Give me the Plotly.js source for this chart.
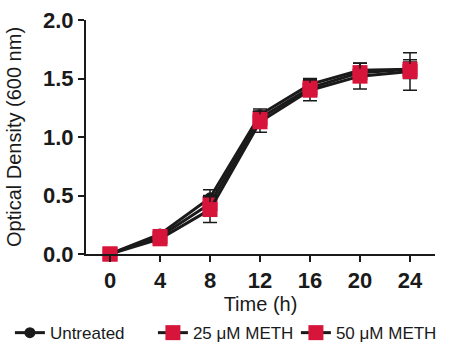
<!DOCTYPE html>
<html><head><meta charset="utf-8">
<script src="https://cdn.plot.ly/plotly-3.0.1.min.js"></script>
<style>body{margin:0;background:#fff}#c{width:460px;height:346px}</style>
</head><body><div id="c"></div>
<script>
const time = [0, 4, 8, 12, 16, 20, 24];
const untreated = [0, 0.17, 0.48, 1.19, 1.45, 1.57, 1.58];
const untreatedErr = [0, 0.02, 0.07, 0.05, 0.05, 0.06, 0.06];
const meth25 = [0, 0.15, 0.43, 1.16, 1.42, 1.55, 1.58];
const meth25Err = [0, 0.02, 0.07, 0.06, 0.06, 0.08, 0.08];
const meth50 = [0, 0.13, 0.38, 1.13, 1.40, 1.52, 1.56];
const meth50Err = [0, 0.02, 0.11, 0.09, 0.09, 0.11, 0.16];
const names = ["Untreated", "25 \u03bcM METH", "50 \u03bcM METH"];
const red = "#D7143A";

function tr(y, e, name, sym, col, size) {
  return {
    x: time, y: y, name: name, type: "scatter", mode: "lines+markers",
    line: {color: "#1a1a1a", width: 3},
    marker: {symbol: sym, color: col, size: size, line: {width: 0}},
    error_y: {type: "data", array: e, visible: true, color: "#1a1a1a", thickness: 1.5, width: 7},
    cliponaxis: false
  };
}
const data = [
  tr(untreated, untreatedErr, names[0], "circle", "#1a1a1a", 11),
  tr(meth25, meth25Err, names[1], "square", red, 15),
  tr(meth50, meth50Err, names[2], "square", red, 15)
];
const tickFont = {family: "Liberation Sans, Arial, sans-serif", size: 22, color: "#1a1a1a", weight: "bold"};
const layout = {
  width: 460, height: 346,
  margin: {l: 86, r: 25, t: 20, b: 92, autoexpand: false},
  paper_bgcolor: "#fff", plot_bgcolor: "#fff",
  font: {family: "Liberation Sans, Arial, sans-serif", color: "#1a1a1a"},
  showlegend: true,
  legend: {orientation: "h", xref: "paper", x: -0.218, xanchor: "left", yref: "paper", y: -0.338, yanchor: "middle",
    font: {size: 17}, itemwidth: 30, tracegroupgap: 0, entrywidth: 98, entrywidthmode: "pixels",
    bgcolor: "rgba(0,0,0,0)"},
  xaxis: {
    range: [-1.92, 26], tickvals: time, ticktext: time.map(String),
    showgrid: false, zeroline: false, showline: true, linecolor: "#1a1a1a", linewidth: 2,
    ticks: "outside", ticklen: 6, tickwidth: 2, tickcolor: "#1a1a1a",
    tickfont: tickFont,
    title: {text: "Time (h)", font: {size: 20}, standoff: 3}
  },
  yaxis: {
    range: [0, 2], tickvals: [0, 0.5, 1.0, 1.5, 2.0], tickformat: ".1f",
    showgrid: false, zeroline: false, showline: true, linecolor: "#1a1a1a", linewidth: 2,
    ticks: "outside", ticklen: 6, tickwidth: 2, tickcolor: "#1a1a1a",
    tickfont: tickFont,
    title: {text: "Optical Density (600 nm)", font: {size: 20}, standoff: 16}
  }
};
Plotly.newPlot("c", data, layout, {displayModeBar: false, staticPlot: true});
</script></body></html>
